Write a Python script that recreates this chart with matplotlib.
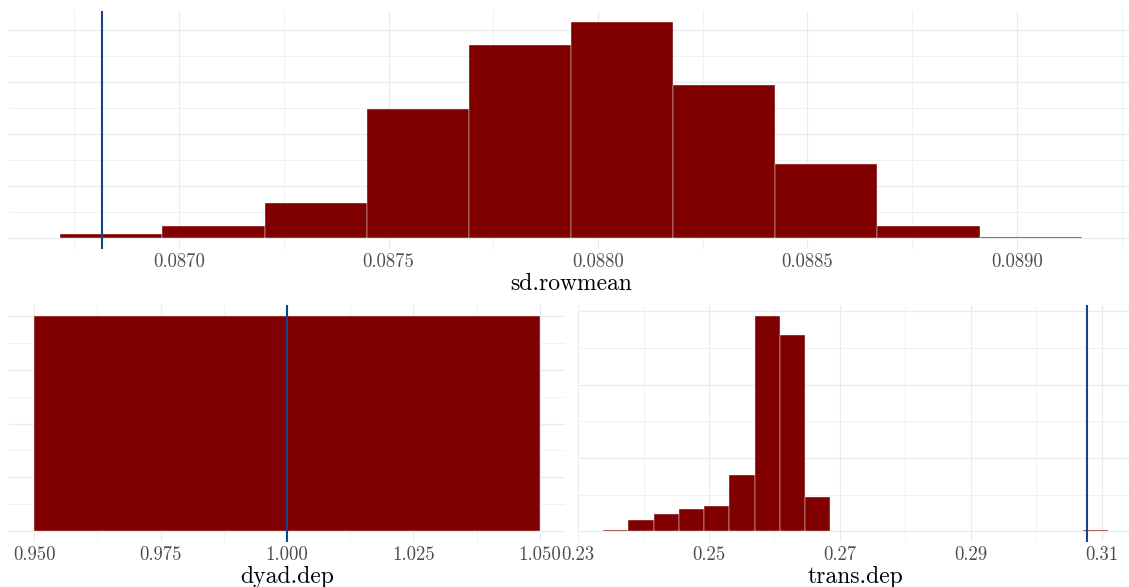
import matplotlib
matplotlib.use("Agg")
import matplotlib.pyplot as plt
from matplotlib.ticker import FixedLocator

# ---- data -------------------------------------------------------------
sd_rowmean_edges = [0.086716, 0.086960, 0.087204, 0.087448, 0.087692, 0.087936,
                    0.088179, 0.088423, 0.088667, 0.088911, 0.089155]
sd_rowmean_counts = [4, 12, 34, 124, 186, 208, 147, 71, 12, 1]
sd_rowmean_obs = 0.086815
sd_rowmean_ticks = [0.0870, 0.0875, 0.0880, 0.0885, 0.0890]
sd_rowmean_labels = ["0.0870", "0.0875", "0.0880", "0.0885", "0.0890"]

dyad_dep_edges = [0.95, 1.05]
dyad_dep_counts = [800]
dyad_dep_obs = 1.0
dyad_dep_ticks = [0.950, 0.975, 1.000, 1.025, 1.050]
dyad_dep_labels = ["0.950", "0.975", "1.000", "1.025", "1.050"]

trans_dep_edges = [0.233820, 0.237677, 0.241533, 0.245390, 0.249246, 0.253103,
                   0.256959, 0.260816, 0.264672, 0.268529, 0.272385, 0.276242,
                   0.280098, 0.283955, 0.287811, 0.291668, 0.295524, 0.299381,
                   0.303237, 0.307094, 0.310950]
trans_dep_counts = [1, 16, 23, 31, 35, 77, 294, 268, 47, 0,
                    0, 0, 0, 0, 0, 0, 0, 0, 0, 1]
trans_dep_obs = 0.30783
trans_dep_ticks = [0.23, 0.25, 0.27, 0.29, 0.31]
trans_dep_labels = ["0.23", "0.25", "0.27", "0.29", "0.31"]

# ---- style ------------------------------------------------------------
FILL = "#800000"
LINE = "#124684"
GRID = "#EBEBEB"
FONT = "cmr10"

W, H = 1129, 587
fig = plt.figure(figsize=(W / 100, H / 100), dpi=100)


def px_rect(x0, x1, y0, y1):
    return [x0 / W, 1 - y1 / H, (x1 - x0) / W, (y1 - y0) / H]


def panel(rect, edges, counts, obs, ticks, labels, minor_x, ystep, title):
    ax = fig.add_axes(rect)
    lefts = edges[:-1]
    widths = [b - a for a, b in zip(edges[:-1], edges[1:])]
    ax.bar(lefts, counts, width=widths, align="edge", color=FILL,
           edgecolor="#F2F2F2", linewidth=0.3, zorder=2)
    ax.axvline(obs, color=LINE, linewidth=1.5, zorder=3)

    lo = min(edges[0], obs)
    hi = max(edges[-1], obs)
    pad = 0.05 * (hi - lo)
    ax.set_xlim(lo - pad, hi + pad)
    top = max(counts)
    ax.set_ylim(-0.05 * top, 1.05 * top)

    ax.xaxis.set_major_locator(FixedLocator(ticks))
    ax.set_xticklabels(labels, family=FONT, fontsize=13.5, color="#4D4D4D")
    ax.xaxis.set_minor_locator(FixedLocator(minor_x))
    ymaj = [v for v in range(0, int(1.05 * top) + 1, 2 * ystep)]
    ymin = [v for v in range(ystep, int(1.05 * top) + 1, 2 * ystep)]
    ax.yaxis.set_major_locator(FixedLocator(ymaj))
    ax.yaxis.set_minor_locator(FixedLocator(ymin))
    ax.set_yticklabels([])

    ax.tick_params(which="both", length=0)
    ax.tick_params(axis="x", pad=3)
    ax.grid(which="major", color=GRID, linewidth=0.8, zorder=0)
    ax.grid(which="minor", color=GRID, linewidth=0.5, zorder=0)
    ax.set_axisbelow(True)
    for s in ax.spines.values():
        s.set_visible(False)
    ax.set_xlabel(title, family=FONT, fontsize=17, color="black", labelpad=1)
    return ax


panel(px_rect(9, 1133, 11, 249), sd_rowmean_edges, sd_rowmean_counts,
      sd_rowmean_obs, sd_rowmean_ticks, sd_rowmean_labels,
      [0.08675, 0.08725, 0.08775, 0.08825, 0.08875, 0.08925], 25, "sd.rowmean")

panel(px_rect(9, 565, 305, 542), dyad_dep_edges, dyad_dep_counts,
      dyad_dep_obs, dyad_dep_ticks, dyad_dep_labels,
      [0.9625, 0.9875, 1.0125, 1.0375], 100, "dyad.dep")

panel(px_rect(578, 1133, 305, 542), trans_dep_edges, trans_dep_counts,
      trans_dep_obs, trans_dep_ticks, trans_dep_labels,
      [0.24, 0.26, 0.28, 0.30], 50, "trans.dep")

fig.savefig("out.png", dpi=100)
